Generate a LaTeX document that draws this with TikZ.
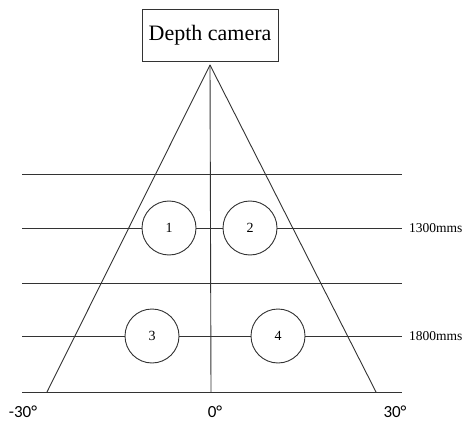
\documentclass[tikz,border=0pt]{standalone}
\usepackage{fontspec}
\setmainfont{Liberation Serif}
\newfontfamily\labelfont{Carlito}
\begin{document}
\begin{tikzpicture}[x=1pt,y=-1pt,
  ln/.style={line width=0.9pt,draw=black!80},
  ball/.style={circle,ln,fill=white,minimum size=54pt,inner sep=0pt,font=\fontsize{14}{14}\selectfont},
  dist/.style={anchor=west,inner sep=0pt,font=\fontsize{13.5}{14}\selectfont},
  deg/.style={inner sep=0pt,font=\labelfont\fontsize{17}{17}\selectfont}]
\useasboundingbox (0,0) rectangle (468,422);
% camera
\node[ln,draw,minimum width=136pt,minimum height=52pt,inner sep=0pt,
      font=\fontsize{22}{22}\selectfont] (cam) at (210,35) {Depth camera};
\coordinate (apex) at (210,65);
\coordinate (bl) at (47,392);
\coordinate (br) at (376,392);
\coordinate (bc) at (211,392);
% horizontal line ends
\coordinate (a1) at (22,174); \coordinate (b1) at (402,174);
\coordinate (a2) at (22,228); \coordinate (b2) at (402,228);
\coordinate (a3) at (22,283); \coordinate (b3) at (402,283);
\coordinate (a4) at (22,336); \coordinate (b4) at (402,336);
\coordinate (a5) at (22,392); \coordinate (b5) at (402,392);
% circles
\node[ball] (c1) at (169,228) {1};
\node[ball] (c2) at (250,228) {2};
\node[ball] (c3) at (152,336) {3};
\node[ball] (c4) at (278,336) {4};
% triangle and centre line
\draw[ln] (apex) -- (bl);
\draw[ln] (apex) -- (br);
\draw[ln] (apex) -- (bc);
% horizontal lines
\draw[ln] (a1) -- (b1);
\draw[ln] (a3) -- (b3);
\draw[ln] (a5) -- (b5);
\draw[ln] (a2) -- (c1) -- (c2) -- (b2);
\draw[ln] (a4) -- (c3) -- (c4) -- (b4);
% labels
\node[dist] (d1) at (409,228) {1300mms};
\node[dist] (d2) at (409,336) {1800mms};
\node[deg] (m30) at (23,412) {-30°};
\node[deg] (z0) at (215,412) {0°};
\node[deg] (p30) at (395,412) {30°};
\end{tikzpicture}
\end{document}
